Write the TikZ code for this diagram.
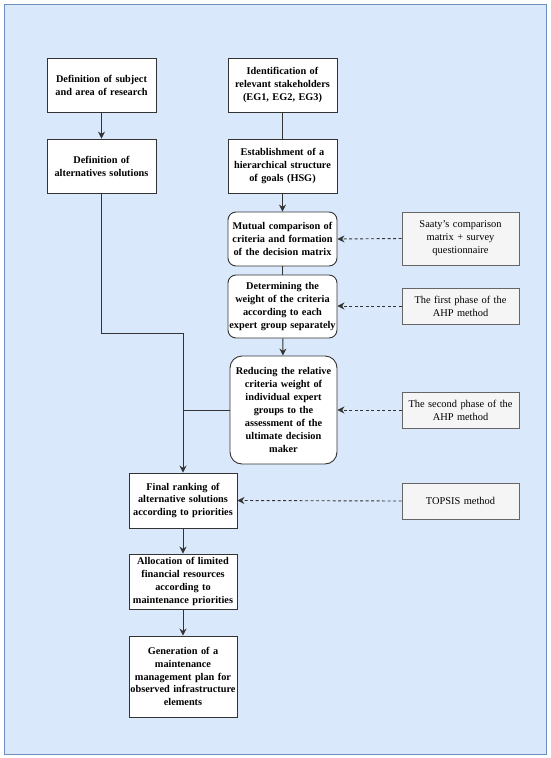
\documentclass[tikz,border=0pt]{standalone}
\usepackage{fontspec}
\setmainfont{Liberation Serif}
\usetikzlibrary{arrows.meta}
\definecolor{bgfill}{HTML}{DAE8FC}
\definecolor{bgline}{HTML}{6C8EBF}
\definecolor{ink}{HTML}{333333}
\definecolor{sidefill}{HTML}{F5F5F5}
\definecolor{sideline}{HTML}{666666}
\begin{document}
\begin{tikzpicture}[x=1pt,y=-1pt,
  font=\fontsize{10.3}{12.9}\selectfont\bfseries,
  box/.style={draw=ink,line width=0.9pt,fill=white,align=center,inner sep=0pt,minimum width=109pt,minimum height=54pt,text width=109pt},
  rbox/.style={box,rounded corners=8pt},
  sidebox/.style={draw=sideline,line width=0.8pt,fill=sidefill,align=center,inner sep=0pt,minimum width=117pt,text width=115pt,font=\fontsize{10.4}{12.9}\selectfont\mdseries},
  conn/.style={draw=ink,line width=0.9pt},
  arr/.style={conn,-{Stealth[length=7pt,width=7pt]}},
  darr/.style={conn,dash pattern=on 3pt off 2.5pt,-{Stealth[length=7pt,width=7pt]}}
]
\useasboundingbox (0,0) rectangle (550,758);
\fill[bgfill,draw=bgline,line width=0.8pt] (4,4) rectangle (546,754);

\node[box] (b1) at (101.5,85) {Definition of subject\\and area of research};
\node[box] (b2) at (101.5,166) {Definition of\\alternatives solutions};
\node[box] (b3) at (282.5,85) {Identification of\\relevant stakeholders\\(EG1, EG2, EG3)};
\node[box] (b4) at (282.5,166) {Establishment of a\\hierarchical structure\\of goals (HSG)};
\node[rbox] (b5) at (282.5,239) {Mutual comparison of\\criteria and formation\\of the decision matrix};
\node[rbox,minimum height=63pt] (b6) at (282.5,306.5) {Determining the\\weight of the criteria\\according to each\\expert group separately};
\node[rbox,minimum width=107pt,text width=107pt,minimum height=108pt,rounded corners=12pt] (b7) at (283.5,410) {Reducing the relative\\criteria weight of\\individual expert\\groups to the\\assessment of the\\ultimate decision\\maker};

\node[sidebox,minimum height=53pt] (s1) at (460.5,238.5) {Saaty's comparison\\matrix + survey\\questionnaire};
\node[sidebox,minimum height=36pt] (s2) at (460.5,306) {The first phase of the\\AHP method};
\node[sidebox,minimum height=36pt] (s3) at (460.5,410) {The second phase of the\\AHP method};
\node[sidebox,minimum height=36pt] (s4) at (460.5,501) {TOPSIS method};

\node[box,minimum width=108pt,text width=108pt,minimum height=55pt] (f1) at (183,500.5) {Final ranking of\\alternative solutions\\according to priorities};
\node[box,minimum width=108pt,text width=108pt,minimum height=55pt] (f2) at (183,581.5) {Allocation of limited\\financial resources\\according to\\maintenance priorities};
\node[box,minimum width=108pt,text width=108pt,minimum height=81pt] (f3) at (183,676.5) {Generation of a\\maintenance\\management plan for\\observed infrastructure\\elements};

\coordinate (j1) at (101.5,333);
\coordinate (j2) at (183,333);
\coordinate (j3) at (183,410);

\draw[arr] (b1) -- (b2);
\draw[conn] (b3) -- (b4);
\draw[arr] (b4) -- (b5);
\draw[conn] (b5) -- (b6);
\draw[arr] (b6) -- (b7);
\draw[conn] (b2.south) -- (j1) -- (j2);
\draw[arr] (j2) -- (f1.north);
\draw[conn] (b7.west) -- (j3);
\draw[arr] (f1) -- (f2);
\draw[arr] (f2) -- (f3);

\draw[darr] (s1.west) -- (b5.east);
\draw[darr] (s2.west) -- (b6.east|-s2.west);
\draw[darr] (s3.west) -- (b7.east);
\draw[darr] (s4.west) -- (f1.east);
\end{tikzpicture}
\end{document}
